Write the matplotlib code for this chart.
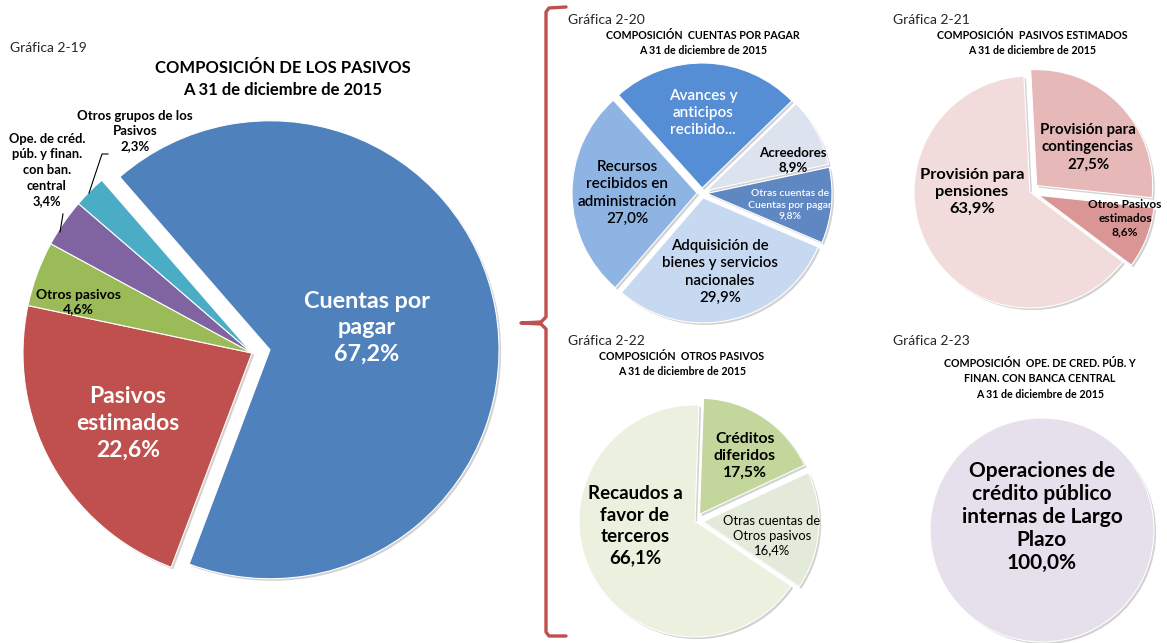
import matplotlib
matplotlib.use('Agg')
import matplotlib.pyplot as plt
import matplotlib.patches as mpatches

plt.rcParams['font.family'] = ['Lato', 'DejaVu Sans']

W, H = 1167, 643

# Gráfica 2-19 composición de los pasivos
main_labels = ['Cuentas por\npagar', 'Pasivos\nestimados', 'Otros pasivos',
               'Ope. de créd.\npúb. y finan.\ncon ban.\ncentral',
               'Otros grupos de los\nPasivos']
main_values = [67.2, 22.6, 4.6, 3.4, 2.3]
main_colors = ['#4F81BD', '#C0504D', '#9BBB59', '#8064A2', '#4BACC6']

# Gráfica 2-20 cuentas por pagar
cxp_labels = ['Avances y\nanticipos\nrecibido...', 'Acreedores',
              'Otras cuentas de\nCuentas por pagar',
              'Adquisición de\nbienes y servicios\nnacionales',
              'Recursos\nrecibidos en\nadministración']
cxp_values = [24.4, 8.9, 9.8, 29.9, 27.0]
cxp_colors = ['#558ED5', '#DCE3EF', '#5F87C2', '#C6D9F1', '#8EB4E3']

# Gráfica 2-21 pasivos estimados
est_labels = ['Provisión para\ncontingencias', 'Otros Pasivos\nestimados',
              'Provisión para\npensiones']
est_values = [27.5, 8.6, 63.9]
est_colors = ['#E6B9B8', '#D99694', '#F2DCDB']

# Gráfica 2-22 otros pasivos
otr_labels = ['Créditos\ndiferidos', 'Otras cuentas de\nOtros pasivos',
              'Recaudos a\nfavor de\nterceros']
otr_values = [17.5, 16.4, 66.1]
otr_colors = ['#C3D69B', '#E4EAD9', '#EBF1DE']

# Gráfica 2-23 operaciones de crédito público
ope_labels = ['Operaciones de\ncrédito público\ninternas de Largo\nPlazo']
ope_values = [100.0]
ope_colors = ['#E6E0EC']


def pct(v):
    return f'{v:.1f}'.replace('.', ',') + '%'


fig = plt.figure(figsize=(W / 100, H / 100), dpi=100)
ax = fig.add_axes([0, 0, 1, 1])


def draw_pie(values, colors, cx, cy, r, start, explode, lw=0.8):
    # explode given as a fraction of the radius
    wedges, _ = ax.pie(values, colors=colors, center=(cx, H - cy), radius=r,
                       startangle=start, counterclock=False,
                       explode=[e * r for e in explode],
                       wedgeprops=dict(edgecolor='white', linewidth=lw))
    for w in wedges:
        w.set_zorder(2)
        sh = mpatches.Shadow(w, 1.5, -1.5)
        sh.set_facecolor('#808080')
        sh.set_edgecolor('none')
        sh.set_alpha(0.35)
        sh.set_zorder(1)
        ax.add_patch(sh)
    return wedges


def put(x, y, s, size, color='black', weight='bold', ls=1.2, ha='center'):
    return ax.text(x, H - y, s, fontsize=size, color=color, fontweight=weight,
                   ha=ha, va='center', multialignment='center',
                   linespacing=ls, zorder=5)


draw_pie(main_values, main_colors, 252, 353, 229, 131, [0.08, 0, 0, 0, 0])
draw_pie(cxp_values, cxp_colors, 702, 193, 125, 132, [0.04] * 5)
draw_pie(est_values, est_colors, 1030, 192, 116, 93, [0.08, 0.08, 0])
draw_pie(otr_values, otr_colors, 695, 521, 116, 88, [0.07, 0.07, 0])
draw_pie(ope_values, ope_colors, 1042, 530, 112, 90, [0])

# labels: (x, y, size, color, weight, linespacing, show pct)
main_pos = [(367, 328, 16.8, 'white', 'bold', 1.3, True),
            (128, 423, 16.5, 'white', 'bold', 1.35, True),
            (78, 302, 10, 'black', 'bold', 1.2, True),
            (47, 170, 9.3, 'black', 'bold', 1.35, True),
            (135, 131, 9.5, 'black', 'bold', 1.3, True)]
cxp_pos = [(703, 113, 11, 'white', 'semibold', 1.27, False),
           (793, 160, 9.5, 'black', 'bold', 1.15, True),
           (790, 205, 7.5, 'white', 'semibold', 1.3, True),
           (720, 272, 10.8, 'black', 'semibold', 1.3, True),
           (627, 193, 11, 'black', 'semibold', 1.28, True)]
est_pos = [(1088, 147, 10.8, 'black', 'bold', 1.3, True),
           (1125, 218, 8.6, 'black', 'bold', 1.3, True),
           (972, 192, 11.8, 'black', 'bold', 1.28, True)]
otr_pos = [(745, 456, 11.3, 'black', 'bold', 1.27, True),
           (772, 536, 9.4, 'black', 'normal', 1.26, True),
           (635, 526, 13.5, 'black', 'bold', 1.32, True)]
ope_pos = [(1042, 517, 15, 'black', 'bold', 1.2, True)]

clip = mpatches.Rectangle((600, 0), 230, H, transform=ax.transData)
for labels, values, pos in [(main_labels, main_values, main_pos),
                            (cxp_labels, cxp_values, cxp_pos),
                            (est_labels, est_values, est_pos),
                            (otr_labels, otr_values, otr_pos),
                            (ope_labels, ope_values, ope_pos)]:
    for lab, v, (x, y, size, col, wt, ls, show) in zip(labels, values, pos):
        s = lab + '\n' + pct(v) if show else lab
        t = put(x, y, s, size, col, wt, ls)
        if labels is cxp_labels:
            t.set_clip_path(clip)

# leader lines of the small slices
ax.plot([108, 102, 89], [H - 154, H - 154, H - 193], color='black', lw=0.8, zorder=4)
ax.plot([63, 60], [H - 214, H - 232], color='black', lw=0.8, zorder=4)

# titles
put(10, 48, 'Gráfica 2-19', 10, '#262626', 'normal', ha='left')
put(283, 79, 'COMPOSICIÓN DE LOS PASIVOS\nA 31 de diciembre de 2015', 12, ls=1.45)
put(568, 20, 'Gráfica 2-20', 10, '#262626', 'normal', ha='left')
put(703, 43, 'COMPOSICIÓN  CUENTAS POR PAGAR\nA 31 de diciembre de 2015', 7.7, ls=1.5)
put(893, 20, 'Gráfica 2-21', 10, '#262626', 'normal', ha='left')
put(1032, 43, 'COMPOSICIÓN  PASIVOS ESTIMADOS\nA 31 de diciembre de 2015', 7.7, ls=1.5)
put(568, 341, 'Gráfica 2-22', 10, '#262626', 'normal', ha='left')
put(682, 364, 'COMPOSICIÓN  OTROS PASIVOS\nA 31 de diciembre de 2015', 7.7, ls=1.5)
put(893, 341, 'Gráfica 2-23', 10, '#262626', 'normal', ha='left')
put(1040, 379, 'COMPOSICIÓN  OPE. DE CRED. PÚB. Y\nFINAN. CON BANCA CENTRAL\n'
    'A 31 de diciembre de 2015', 7.7, ls=1.45)

# red brace linking the main chart to the detail charts
bx = [566, 549, 546, 546, 541, 521, 541, 546, 546, 549, 566]
by = [7, 8, 12, 317, 322, 323, 324, 329, 632, 636, 636]
ax.plot(bx, [H - v for v in by], color='#C0504D', lw=2.4, solid_capstyle='round',
        solid_joinstyle='round', zorder=4)

ax.set_xlim(0, W)
ax.set_ylim(0, H)
ax.set_aspect('equal')
ax.axis('off')

fig.savefig('out.png', dpi=100)
